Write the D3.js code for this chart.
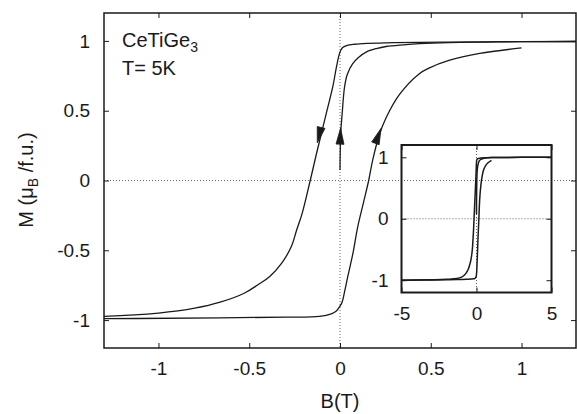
<!DOCTYPE html>
<html>
<head>
<meta charset="utf-8">
<script src="https://cdn.jsdelivr.net/npm/d3@7/dist/d3.min.js"></script>
<style>
  body { margin: 0; background: #fff; }
  svg text { font-family: "Liberation Sans", Arial, sans-serif; fill: #1a1a1a; }
</style>
</head>
<body>
<div class="canvas-container"></div>
<script>

// descending branch (field swept from +5 T down to -5 T)
var downB = [5, 3, 2, 1.3, 1.0, 0.6, 0.3, 0.15, 0.08, 0.04, 0.015, 0.005, -0.005, -0.02, -0.04, -0.07, -0.10, -0.13, -0.164, -0.208, -0.24, -0.268, -0.32, -0.387, -0.45, -0.525, -0.66, -0.8, -1.0, -1.3, -2, -3, -5];
var downM = [1.0, 0.999, 0.998, 0.996, 0.995, 0.992, 0.988, 0.982, 0.976, 0.968, 0.952, 0.935, 0.9, 0.81, 0.67, 0.51, 0.35, 0.19, 0.0, -0.234, -0.36, -0.473, -0.59, -0.687, -0.745, -0.806, -0.872, -0.915, -0.95, -0.973, -0.985, -0.992, -1.0];

// ascending branch (-5 T up to 1 T)
var upB = [-5, -3, -2, -1.3, -0.66, -0.3, -0.113, -0.048, -0.02, 0, 0.012, 0.028, 0.043, 0.07, 0.098, 0.128, 0.158, 0.18, 0.217, 0.254, 0.327, 0.437, 0.49, 0.6, 0.77, 1.0];
var upM = [-1.0, -0.996, -0.993, -0.99, -0.984, -0.979, -0.973, -0.955, -0.935, -0.90, -0.87, -0.78, -0.687, -0.53, -0.33, -0.165, 0, 0.146, 0.33, 0.45, 0.615, 0.765, 0.805, 0.86, 0.91, 0.95];

// virgin curve (0 T up to 5 T)
var virB = [0, 0.004, 0.012, 0.025, 0.04, 0.07, 0.1, 0.144, 0.2, 0.254, 0.35, 0.437, 0.6, 0.8, 1.0, 1.3, 2, 3, 5];
var virM = [0.075, 0.34, 0.48, 0.67, 0.76, 0.837, 0.88, 0.92, 0.945, 0.96, 0.972, 0.98, 0.988, 0.992, 0.995, 0.996, 0.998, 0.999, 1.0];

// arrows: tail -> tip, in data units
var arrowTail = [[-0.104, 0.38], [0.0, 0.26], [0.195, 0.266]];
var arrowTip  = [[-0.125, 0.27], [0.003, 0.375], [0.226, 0.373]];

var xTicks = [-1, -0.5, 0, 0.5, 1];
var xTickLabels = ["-1", "-0.5", "0", "0.5", "1"];
var yTicks = [-1, -0.5, 0, 0.5, 1];
var yTickLabels = ["-1", "-0.5", "0", "0.5", "1"];
var insetXTicks = [-5, 0, 5];
var insetXTickLabels = ["-5", "0", "5"];
var insetYTicks = [-1, 0, 1];
var insetYTickLabels = ["-1", "0", "1"];

var width = 577, height = 414;
var ink = "#1a1a1a";

var svg = d3.select("div.canvas-container")
    .append("svg")
    .attr("width", width)
    .attr("height", height);

function zip(bs, ms) {
    return bs.map(function (b, i) { return [b, ms[i]]; });
}
var branches = [zip(downB, downM), zip(upB, upM), zip(virB, virM)];

function drawPanel(x, y, opts) {
    var g = svg.append("g");
    var x0 = x.range()[0], x1 = x.range()[1];
    var y0 = y.range()[1], y1 = y.range()[0];

    g.append("clipPath").attr("id", opts.id)
        .append("rect")
        .attr("x", x0).attr("y", y0)
        .attr("width", x1 - x0).attr("height", y1 - y0);

    // zero lines
    g.append("line")
        .attr("x1", x0).attr("x2", x1)
        .attr("y1", y(0)).attr("y2", y(0))
        .attr("stroke", "#555").attr("stroke-width", 0.9)
        .attr("stroke-dasharray", "1,2");
    g.append("line")
        .attr("x1", x(0)).attr("x2", x(0))
        .attr("y1", y0).attr("y2", y1)
        .attr("stroke", "#555").attr("stroke-width", 0.9)
        .attr("stroke-dasharray", "1,2");

    // axes, ticks pointing inward
    var fs = opts.fontSize;
    var bottom = g.append("g").attr("transform", "translate(0," + y1 + ")")
        .call(d3.axisBottom(x).tickValues(opts.xt).tickSize(-5).tickPadding(opts.xPad)
            .tickFormat(function (d, i) { return opts.xl[i]; }));
    var top = g.append("g").attr("transform", "translate(0," + y0 + ")")
        .call(d3.axisTop(x).tickValues(opts.xt).tickSize(-5).tickFormat(""));
    var left = g.append("g").attr("transform", "translate(" + x0 + ",0)")
        .call(d3.axisLeft(y).tickValues(opts.yt).tickSize(-5).tickPadding(opts.yPad)
            .tickFormat(function (d, i) { return opts.yl[i]; }));
    var right = g.append("g").attr("transform", "translate(" + x1 + ",0)")
        .call(d3.axisRight(y).tickValues(opts.yt).tickSize(-5).tickFormat(""));

    [bottom, top, left, right].forEach(function (a) {
        a.select(".domain").remove();
        a.selectAll("line").attr("stroke", ink).attr("stroke-width", 1);
        a.selectAll("text").attr("font-size", fs + "px")
            .attr("font-family", "'Liberation Sans', Arial, sans-serif")
            .attr("fill", ink);
    });

    var line = d3.line()
        .x(function (d) { return x(d[0]); })
        .y(function (d) { return y(d[1]); })
        .curve(d3.curveCatmullRom.alpha(0.5));

    g.append("g").attr("clip-path", "url(#" + opts.id + ")")
        .selectAll("path")
        .data(branches)
        .enter()
        .append("path")
        .attr("d", line)
        .attr("fill", "none")
        .attr("stroke", ink)
        .attr("stroke-width", opts.curveWidth);

    g.append("rect")
        .attr("x", x0).attr("y", y0)
        .attr("width", x1 - x0).attr("height", y1 - y0)
        .attr("fill", "none")
        .attr("stroke", ink)
        .attr("stroke-width", opts.frameWidth);
    return g;
}

var xMain = d3.scaleLinear().domain([-1.3, 1.3]).range([104, 576]);
var yMain = d3.scaleLinear().domain([-1.2, 1.2]).range([348, 13]);

drawPanel(xMain, yMain, {
    id: "clipMain", xt: xTicks, xl: xTickLabels, yt: yTicks, yl: yTickLabels,
    fontSize: 19, xPad: 14, yPad: 14, curveWidth: 1.3, frameWidth: 1.5
});

// arrow heads on the main loop
svg.append("g")
    .selectAll("path")
    .data(arrowTip)
    .enter()
    .append("path")
    .attr("d", function (d, i) {
        var tx = xMain(d[0]), ty = yMain(d[1]);
        var bx = xMain(arrowTail[i][0]), by = yMain(arrowTail[i][1]);
        var dx = tx - bx, dy = ty - by, len = Math.sqrt(dx * dx + dy * dy);
        var nx = -dy / len * 4, ny = dx / len * 4;
        return "M" + tx + "," + ty + "L" + (bx + nx) + "," + (by + ny) +
            "L" + (bx - nx) + "," + (by - ny) + "Z";
    })
    .attr("fill", ink)
    .attr("stroke", ink)
    .attr("stroke-width", 0.8);

// inset: same data over the full field range
var xIn = d3.scaleLinear().domain([-5, 5]).range([401.5, 551.5]);
var yIn = d3.scaleLinear().domain([-1.2, 1.2]).range([292.5, 145]);

drawPanel(xIn, yIn, {
    id: "clipInset", xt: insetXTicks, xl: insetXTickLabels, yt: insetYTicks, yl: insetYTickLabels,
    fontSize: 19, xPad: 14, yPad: 13, curveWidth: 1.5, frameWidth: 2
});

// labels
var note = svg.append("text").attr("x", 122).attr("y", 46.5).attr("font-size", "20px");
note.append("tspan").text("CeTiGe");
note.append("tspan").attr("font-size", "14px").attr("dy", 5).text("3");
svg.append("text").attr("x", 122).attr("y", 75).attr("font-size", "20px").text("T= 5K");

svg.append("text")
    .attr("x", 340).attr("y", 408)
    .attr("text-anchor", "middle")
    .attr("font-size", "20px")
    .text("B(T)");

var ylab = svg.append("text")
    .attr("transform", "translate(33,180) rotate(-90)")
    .attr("text-anchor", "middle")
    .attr("font-size", "20px");
ylab.append("tspan").text("M (\u03bc");
ylab.append("tspan").attr("font-size", "14px").attr("dy", 5).text("B");
ylab.append("tspan").attr("dy", -5).text(" /f.u.)");

</script>
</body>
</html>
